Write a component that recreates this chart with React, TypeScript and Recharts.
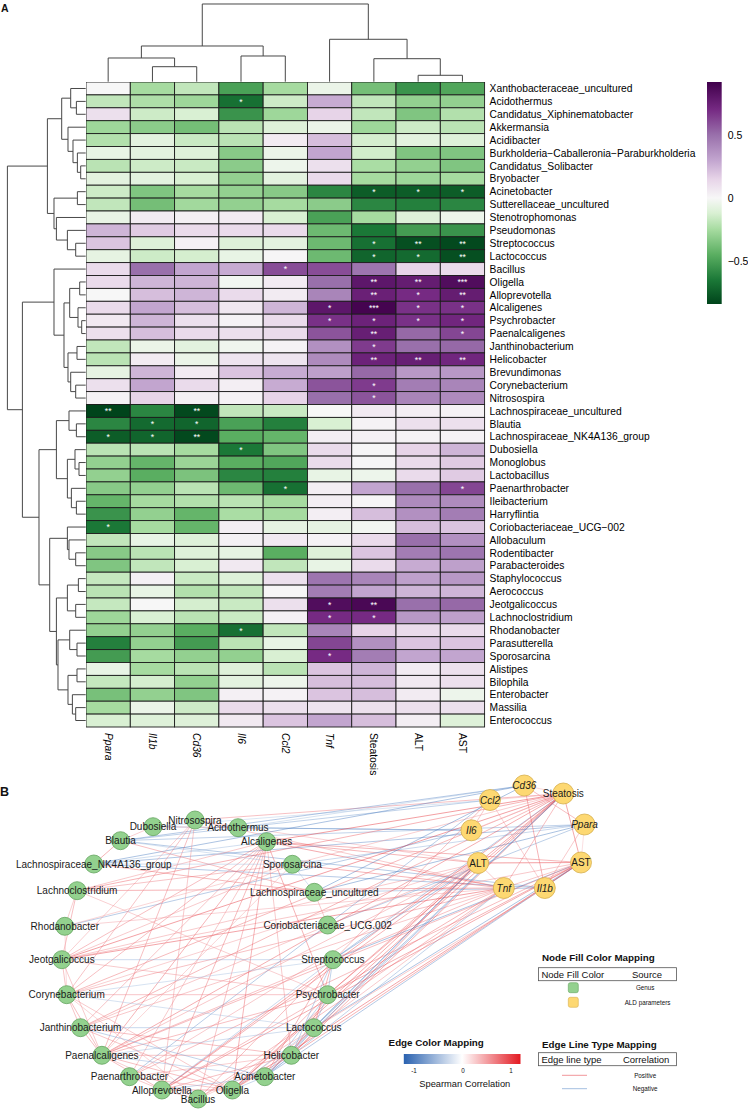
import React from "react";
import {
    ComposedChart,
    ScatterChart,
    Scatter,
    Line,
    XAxis,
    YAxis,
    ReferenceLine,
    ReferenceArea,
} from "recharts";

const FONT = '"Liberation Sans", Arial, Helvetica, sans-serif';

// ---------- panel A: heatmap ----------

const ROWS = [
    "Xanthobacteraceae_uncultured", "Acidothermus", "Candidatus_Xiphinematobacter", "Akkermansia",
    "Acidibacter", "Burkholderia\u2212Caballeronia\u2212Paraburkholderia", "Candidatus_Solibacter", "Bryobacter",
    "Acinetobacter", "Sutterellaceae_uncultured", "Stenotrophomonas", "Pseudomonas", "Streptococcus",
    "Lactococcus", "Bacillus", "Oligella", "Alloprevotella", "Alcaligenes", "Psychrobacter",
    "Paenalcaligenes", "Janthinobacterium", "Helicobacter", "Brevundimonas", "Corynebacterium",
    "Nitrosospira", "Lachnospiraceae_uncultured", "Blautia", "Lachnospiraceae_NK4A136_group",
    "Dubosiella", "Monoglobus", "Lactobacillus", "Paenarthrobacter", "Ileibacterium", "Harryflintia",
    "Coriobacteriaceae_UCG\u2212002", "Allobaculum", "Rodentibacter", "Parabacteroides", "Staphylococcus",
    "Aerococcus", "Jeotgalicoccus", "Lachnoclostridium", "Rhodanobacter", "Parasutterella",
    "Sporosarcina", "Alistipes", "Bilophila", "Enterobacter", "Massilia", "Enterococcus",
];

const COLUMNS = ["Ppara", "Il1b", "Cd36", "Il6", "Ccl2", "Tnf", "Steatosis", "ALT", "AST"];
const ITALIC_LABELS = ["Ppara", "Il1b", "Cd36", "Il6", "Ccl2", "Tnf"];

const PPARA = [0.0, -0.18, 0.1, -0.27, -0.22, -0.06, -0.2, -0.08, -0.15, -0.18, -0.06, 0.25, 0.2, -0.07, 0.12, 0.12, 0.0, 0.12, 0.06, 0.1, -0.18, -0.2, -0.07, 0.1, 0.02, -0.84, -0.6, -0.75, -0.2, -0.3, -0.3, -0.33, -0.42, -0.55, -0.65, -0.18, -0.33, -0.35, -0.17, -0.2, -0.17, -0.27, -0.3, -0.62, -0.52, -0.06, -0.17, -0.37, -0.25, -0.12];
const IL1B = [-0.25, -0.23, -0.15, -0.32, -0.08, -0.08, -0.15, -0.08, -0.35, -0.38, 0.05, 0.18, -0.1, -0.15, 0.5, 0.25, 0.22, 0.3, 0.25, 0.22, -0.05, 0.05, 0.25, 0.3, 0.15, -0.6, -0.7, -0.72, -0.2, -0.42, -0.45, -0.3, -0.25, -0.3, -0.25, -0.06, -0.2, -0.18, 0.03, -0.06, 0.0, -0.12, -0.3, -0.3, -0.25, -0.25, -0.13, -0.3, -0.05, -0.1];
const CD36 = [-0.18, -0.27, -0.12, -0.38, -0.16, -0.1, -0.16, -0.12, -0.25, -0.26, 0.03, 0.12, 0.03, -0.13, 0.3, 0.25, 0.25, 0.22, 0.1, 0.12, -0.08, -0.05, 0.05, 0.12, 0.03, -0.82, -0.72, -0.82, -0.25, -0.28, -0.36, -0.2, -0.22, -0.42, -0.42, -0.1, -0.1, -0.12, -0.16, -0.22, -0.13, -0.2, -0.45, -0.52, -0.3, -0.2, -0.3, -0.35, -0.15, -0.1];
const IL6 = [-0.5, -0.68, -0.55, -0.2, -0.2, -0.33, -0.32, -0.3, -0.3, -0.3, 0.05, 0.12, -0.1, -0.06, 0.28, -0.02, 0.12, 0.07, 0.02, 0.1, -0.03, 0.08, 0.2, 0.04, 0.02, -0.18, -0.5, -0.45, -0.65, -0.45, -0.6, -0.4, -0.2, -0.24, 0.04, 0.03, -0.07, 0.06, -0.1, -0.18, -0.16, -0.16, -0.68, -0.2, -0.3, -0.1, -0.08, 0.03, 0.12, 0.06];
const CCL2 = [-0.25, -0.15, -0.27, -0.1, 0.05, -0.05, -0.04, -0.08, -0.33, -0.25, -0.12, 0.12, -0.08, 0.01, 0.6, 0.05, 0.05, 0.25, 0.12, 0.12, 0.02, 0.08, 0.28, 0.28, 0.15, -0.16, -0.62, -0.42, -0.35, -0.48, -0.62, -0.68, -0.25, -0.25, -0.07, 0.06, -0.45, -0.18, 0.1, 0.01, 0.1, 0.03, -0.18, -0.06, -0.12, -0.2, -0.04, 0.02, 0.1, 0.2];
const TNF = [-0.05, 0.28, 0.15, -0.05, 0.22, 0.3, 0.1, 0.12, -0.6, -0.32, -0.5, -0.4, -0.4, -0.4, 0.6, 0.5, 0.42, 0.8, 0.68, 0.58, 0.38, 0.4, 0.32, 0.58, 0.5, 0.0, -0.12, 0.04, 0.12, 0.12, -0.06, 0.04, 0.04, 0.04, -0.07, 0.02, -0.1, -0.06, 0.48, 0.45, 0.85, 0.7, 0.42, 0.62, 0.7, 0.2, 0.22, 0.2, 0.08, 0.3];
const STEATOSIS = [-0.38, -0.18, -0.18, -0.27, -0.13, -0.14, -0.24, -0.25, -0.75, -0.6, -0.25, -0.65, -0.68, -0.72, 0.48, 0.8, 0.75, 0.9, 0.74, 0.76, 0.65, 0.74, 0.52, 0.65, 0.58, 0.06, 0.02, 0.03, 0.01, 0.01, -0.04, 0.3, 0.01, 0.22, -0.02, 0.12, 0.2, 0.12, 0.42, 0.3, 0.88, 0.7, 0.15, 0.38, 0.45, 0.25, 0.22, 0.22, 0.1, 0.22];
const ALT = [-0.55, -0.3, -0.35, -0.15, -0.08, -0.35, -0.3, -0.27, -0.75, -0.62, -0.1, -0.52, -0.8, -0.7, 0.15, 0.77, 0.7, 0.68, 0.68, 0.52, 0.5, 0.76, 0.35, 0.45, 0.42, 0.04, 0.1, 0.02, 0.15, 0.12, 0.12, 0.5, 0.4, 0.38, 0.22, 0.5, 0.45, 0.28, 0.32, 0.25, 0.5, 0.35, 0.12, 0.2, 0.3, 0.05, 0.06, 0.05, 0.1, 0.04];
const AST = [-0.48, -0.3, -0.22, -0.2, -0.1, -0.35, -0.35, -0.25, -0.75, -0.6, -0.04, -0.55, -0.82, -0.8, 0.12, 0.85, 0.77, 0.68, 0.72, 0.62, 0.52, 0.72, 0.35, 0.42, 0.4, 0.02, 0.1, 0.02, 0.25, 0.18, 0.18, 0.62, 0.4, 0.45, 0.2, 0.38, 0.48, 0.32, 0.35, 0.25, 0.52, 0.32, 0.12, 0.2, 0.3, 0.1, 0.1, -0.04, 0.1, -0.1];
const COLUMN_VALUES = [PPARA, IL1B, CD36, IL6, CCL2, TNF, STEATOSIS, ALT, AST];

// [row, column, stars]
const STARS: [number, number, string][] = [
    [1, 3, "*"], [8, 6, "*"], [8, 7, "*"], [8, 8, "*"],
    [12, 6, "*"], [12, 7, "**"], [12, 8, "**"], [13, 6, "*"], [13, 7, "*"], [13, 8, "**"],
    [14, 4, "*"], [15, 6, "**"], [15, 7, "**"], [15, 8, "***"], [16, 6, "**"], [16, 7, "*"], [16, 8, "**"],
    [17, 5, "*"], [17, 6, "***"], [17, 7, "*"], [17, 8, "*"], [18, 5, "*"], [18, 6, "*"], [18, 7, "*"], [18, 8, "*"],
    [19, 6, "**"], [19, 8, "*"], [20, 6, "*"], [21, 6, "**"], [21, 7, "**"], [21, 8, "**"],
    [23, 6, "*"], [24, 6, "*"], [25, 0, "**"], [25, 2, "**"], [26, 1, "*"], [26, 2, "*"],
    [27, 0, "*"], [27, 1, "*"], [27, 2, "**"], [28, 3, "*"], [31, 4, "*"], [31, 8, "*"],
    [34, 0, "*"], [40, 5, "*"], [40, 6, "**"], [41, 5, "*"], [41, 6, "*"], [42, 3, "*"], [44, 5, "*"],
];

// dendrogram merges: [child a, child b, height]; leaves first, then merged ids in order
const ROW_MERGES: [number, number, number][] = [
    [1, 2, 9.3], [0, 50, 15], [6, 7, 5], [5, 52, 8.3], [4, 53, 12.7], [3, 54, 17.7], [51, 55, 24],
    [8, 9, 8.3], [12, 13, 10], [11, 58, 18.3], [10, 59, 29.3], [57, 60, 31.7], [56, 61, 38.3],
    [15, 16, 6], [18, 19, 4], [17, 64, 7.7], [63, 65, 16], [20, 21, 8.7], [23, 24, 10], [22, 68, 15],
    [67, 69, 17.7], [66, 70, 21.7], [14, 71, 31.7],
    [26, 27, 9.3], [25, 73, 16.7], [29, 30, 6.7], [28, 75, 10.7], [32, 33, 9.3], [31, 77, 14.3],
    [76, 78, 18.3], [74, 79, 29.3],
    [36, 37, 10], [35, 81, 16.7], [34, 82, 18.3], [38, 39, 7.3], [40, 41, 10], [84, 85, 18.3],
    [43, 44, 8.7], [42, 87, 16], [45, 46, 8.7], [48, 49, 10], [47, 90, 13.3], [89, 91, 17.7],
    [88, 92, 27.7], [86, 93, 29.3], [83, 94, 36], [80, 95, 46.7], [72, 96, 63.3], [62, 97, 78.3],
];

const COL_MERGES: [number, number, number][] = [
    [7, 8, 6.4], [1, 2, 15], [0, 10, 23.7], [3, 4, 25.7], [11, 12, 35.7], [6, 9, 23], [5, 14, 42.4], [13, 15, 77.7],
];

const COLOR_STOPS = [-0.84, -0.65, -0.45, -0.25, -0.12, 0, 0.15, 0.3, 0.5, 0.7, 0.92];
const COLOR_HEX = ["#00441b", "#1b7837", "#5aae61", "#a6dba0", "#d9f0d3", "#f7f7f7", "#e7d4e8", "#c2a5cf", "#9970ab", "#762a83", "#40004b"];
const COLORBAR_TICKS = [-0.5, 0, 0.5];

// ---------- panel B: network ----------

const GENUS_NODES = [
    { name: "Nitrosospira", x: 195, y: 820 },
    { name: "Dubosiella", x: 153, y: 826.7 },
    { name: "Acidothermus", x: 238, y: 827.7 },
    { name: "Blautia", x: 120.5, y: 840.7 },
    { name: "Alcaligenes", x: 266.7, y: 841.7 },
    { name: "Lachnospiraceae_NK4A136_group", x: 93.8, y: 864 },
    { name: "Sporosarcina", x: 292.4, y: 864.3 },
    { name: "Lachnoclostridium", x: 77.1, y: 890.7 },
    { name: "Lachnospiraceae_uncultured", x: 314.3, y: 892.3 },
    { name: "Rhodanobacter", x: 64.8, y: 926.3 },
    { name: "Coriobacteriaceae_UCG.002", x: 327.6, y: 925 },
    { name: "Jeotgalicoccus", x: 61.9, y: 959.7 },
    { name: "Streptococcus", x: 332.9, y: 959.7 },
    { name: "Corynebacterium", x: 66.7, y: 994.7 },
    { name: "Psychrobacter", x: 327.6, y: 994.7 },
    { name: "Janthinobacterium", x: 80.5, y: 1027.7 },
    { name: "Lactococcus", x: 313.8, y: 1027.7 },
    { name: "Paenalcaligenes", x: 101.9, y: 1055.3 },
    { name: "Helicobacter", x: 291.4, y: 1055.3 },
    { name: "Paenarthrobacter", x: 129.5, y: 1076.7 },
    { name: "Acinetobacter", x: 264.8, y: 1076.7 },
    { name: "Alloprevotella", x: 161.9, y: 1090 },
    { name: "Oligella", x: 232.4, y: 1090 },
    { name: "Bacillus", x: 198.1, y: 1099 },
];

const PARAM_NODES = [
    { name: "Cd36", x: 524.3, y: 785.5 },
    { name: "Ccl2", x: 490, y: 800 },
    { name: "Steatosis", x: 563.3, y: 793.5 },
    { name: "Il6", x: 471.4, y: 830.3 },
    { name: "Ppara", x: 584.5, y: 824.5 },
    { name: "ALT", x: 478.1, y: 863 },
    { name: "AST", x: 581, y: 862.5 },
    { name: "Tnf", x: 503.8, y: 888 },
    { name: "Il1b", x: 544.8, y: 888 },
];

const NK = "Lachnospiraceae_NK4A136_group";
const LU = "Lachnospiraceae_uncultured";
const CO = "Coriobacteriaceae_UCG.002";

// [source, target, spearman r]
const EDGES: [string, string, number][] = [
    ["Acidothermus", "Il6", -0.68], ["Acidothermus", "Cd36", -0.4], ["Dubosiella", "Il6", -0.65], ["Dubosiella", "Ccl2", -0.35],
    ["Nitrosospira", "Steatosis", 0.58], ["Nitrosospira", "Tnf", 0.5], ["Nitrosospira", "ALT", 0.42],
    ["Blautia", "Il1b", -0.7], ["Blautia", "Cd36", -0.72], ["Blautia", "Ppara", -0.6], ["Blautia", "Ccl2", -0.62],
    ["Alcaligenes", "Tnf", 0.8], ["Alcaligenes", "Steatosis", 0.9], ["Alcaligenes", "ALT", 0.68], ["Alcaligenes", "AST", 0.68],
    [NK, "Ppara", -0.75], [NK, "Il1b", -0.72], [NK, "Cd36", -0.82],
    ["Sporosarcina", "Tnf", 0.7], ["Sporosarcina", "Ppara", -0.52], ["Sporosarcina", "Steatosis", 0.45],
    ["Lachnoclostridium", "Tnf", 0.7], ["Lachnoclostridium", "Steatosis", 0.7],
    [LU, "Ppara", -0.84], [LU, "Cd36", -0.82], [LU, "Il1b", -0.6],
    ["Rhodanobacter", "Il6", -0.68], ["Rhodanobacter", "Tnf", 0.42], [CO, "Ppara", -0.65],
    ["Jeotgalicoccus", "Tnf", 0.85], ["Jeotgalicoccus", "Steatosis", 0.88], ["Jeotgalicoccus", "ALT", 0.5], ["Jeotgalicoccus", "AST", 0.52],
    ["Streptococcus", "Steatosis", -0.68], ["Streptococcus", "ALT", -0.8], ["Streptococcus", "AST", -0.82],
    ["Corynebacterium", "Steatosis", 0.65], ["Corynebacterium", "Tnf", 0.58], ["Corynebacterium", "ALT", 0.45],
    ["Psychrobacter", "Tnf", 0.68], ["Psychrobacter", "Steatosis", 0.74], ["Psychrobacter", "ALT", 0.68], ["Psychrobacter", "AST", 0.72],
    ["Janthinobacterium", "Steatosis", 0.65], ["Janthinobacterium", "ALT", 0.5], ["Janthinobacterium", "AST", 0.52],
    ["Lactococcus", "Steatosis", -0.72], ["Lactococcus", "ALT", -0.7], ["Lactococcus", "AST", -0.8],
    ["Paenalcaligenes", "Steatosis", 0.76], ["Paenalcaligenes", "AST", 0.62], ["Paenalcaligenes", "Tnf", 0.58], ["Paenalcaligenes", "ALT", 0.52],
    ["Helicobacter", "Steatosis", 0.74], ["Helicobacter", "ALT", 0.76], ["Helicobacter", "AST", 0.72],
    ["Paenarthrobacter", "Ccl2", -0.68], ["Paenarthrobacter", "AST", 0.62], ["Paenarthrobacter", "ALT", 0.5],
    ["Acinetobacter", "Steatosis", -0.75], ["Acinetobacter", "ALT", -0.75], ["Acinetobacter", "AST", -0.75], ["Acinetobacter", "Tnf", -0.6],
    ["Alloprevotella", "Steatosis", 0.75], ["Alloprevotella", "ALT", 0.7], ["Alloprevotella", "AST", 0.77],
    ["Oligella", "Steatosis", 0.8], ["Oligella", "ALT", 0.77], ["Oligella", "AST", 0.85], ["Oligella", "Tnf", 0.5],
    ["Bacillus", "Ccl2", 0.6], ["Bacillus", "Tnf", 0.6], ["Bacillus", "Il1b", 0.5],
    ["Steatosis", "ALT", 0.8], ["Steatosis", "AST", 0.82], ["ALT", "AST", 0.95], ["Tnf", "Steatosis", 0.6],
    ["Cd36", "Il1b", 0.7], ["Ppara", "Cd36", 0.6], ["Ppara", "Il1b", 0.5], ["Ccl2", "Il6", 0.5], ["Ccl2", "Il1b", 0.45],
    ["Ppara", "AST", 0.3], ["Cd36", "Steatosis", 0.35], ["Ccl2", "Steatosis", 0.4], ["Il6", "Steatosis", 0.35], ["Tnf", "ALT", 0.5],
    ["Alcaligenes", "Oligella", 0.7], ["Alcaligenes", "Alloprevotella", 0.65], ["Alcaligenes", "Paenalcaligenes", 0.7],
    ["Alcaligenes", "Corynebacterium", 0.6], ["Alcaligenes", "Jeotgalicoccus", 0.6], ["Alcaligenes", "Bacillus", 0.55],
    ["Alcaligenes", "Psychrobacter", 0.7], ["Alcaligenes", "Paenarthrobacter", 0.5], ["Alcaligenes", "Helicobacter", 0.5],
    ["Alcaligenes", "Janthinobacterium", 0.55], ["Alcaligenes", "Lachnoclostridium", 0.5],
    ["Nitrosospira", "Paenalcaligenes", 0.6], ["Nitrosospira", "Corynebacterium", 0.55], ["Nitrosospira", "Alloprevotella", 0.5],
    ["Nitrosospira", "Jeotgalicoccus", 0.45],
    ["Jeotgalicoccus", "Lachnoclostridium", 0.6], ["Jeotgalicoccus", "Corynebacterium", 0.55], ["Jeotgalicoccus", "Sporosarcina", 0.5],
    ["Jeotgalicoccus", "Paenalcaligenes", 0.5], ["Jeotgalicoccus", "Psychrobacter", 0.5],
    ["Corynebacterium", "Paenalcaligenes", 0.6], ["Corynebacterium", "Janthinobacterium", 0.55], ["Corynebacterium", "Psychrobacter", 0.55],
    ["Corynebacterium", "Oligella", 0.5],
    ["Janthinobacterium", "Paenalcaligenes", 0.6], ["Janthinobacterium", "Helicobacter", 0.6], ["Janthinobacterium", "Oligella", 0.55],
    ["Paenalcaligenes", "Alloprevotella", 0.6], ["Paenalcaligenes", "Oligella", 0.6], ["Paenalcaligenes", "Helicobacter", 0.55],
    ["Paenalcaligenes", "Psychrobacter", 0.6], ["Paenalcaligenes", "Bacillus", 0.45],
    ["Paenarthrobacter", "Alloprevotella", 0.5], ["Paenarthrobacter", "Helicobacter", 0.45], ["Paenarthrobacter", "Oligella", 0.5],
    ["Alloprevotella", "Oligella", 0.7], ["Alloprevotella", "Helicobacter", 0.6], ["Alloprevotella", "Psychrobacter", 0.6],
    ["Alloprevotella", "Bacillus", 0.45], ["Oligella", "Helicobacter", 0.65], ["Oligella", "Psychrobacter", 0.65],
    ["Helicobacter", "Psychrobacter", 0.6],
    ["Lachnoclostridium", "Sporosarcina", 0.55], ["Lachnoclostridium", "Rhodanobacter", 0.45], ["Lachnoclostridium", "Psychrobacter", 0.45],
    ["Rhodanobacter", "Corynebacterium", 0.35], ["Rhodanobacter", "Sporosarcina", 0.4],
    ["Streptococcus", "Lactococcus", 0.7], ["Streptococcus", "Acinetobacter", 0.65], ["Lactococcus", "Acinetobacter", 0.7],
    [LU, "Blautia", 0.6], [LU, NK, 0.65], ["Blautia", NK, 0.7], [CO, LU, 0.5], ["Dubosiella", "Blautia", 0.45],
    ["Acidothermus", "Dubosiella", 0.4], ["Bacillus", "Corynebacterium", 0.4], ["Bacillus", "Helicobacter", 0.4],
    ["Sporosarcina", "Paenalcaligenes", 0.4],
    ["Jeotgalicoccus", "Streptococcus", -0.5], ["Janthinobacterium", "Lactococcus", -0.55], ["Janthinobacterium", "Acinetobacter", -0.6],
    ["Paenalcaligenes", "Acinetobacter", -0.5], ["Paenalcaligenes", "Lactococcus", -0.45],
    ["Streptococcus", "Psychrobacter", -0.6], ["Streptococcus", "Helicobacter", -0.6], ["Lactococcus", "Psychrobacter", -0.6],
    ["Lactococcus", "Helicobacter", -0.55], ["Acinetobacter", "Helicobacter", -0.6], ["Acinetobacter", "Psychrobacter", -0.6],
    ["Acinetobacter", "Oligella", -0.55], ["Lactococcus", "Oligella", -0.5], ["Streptococcus", "Alloprevotella", -0.5],
    ["Acinetobacter", "Alloprevotella", -0.5], [NK, "Alcaligenes", -0.45], ["Blautia", "Sporosarcina", -0.4],
    [NK, "Sporosarcina", -0.4], [LU, "Sporosarcina", -0.4], ["Corynebacterium", "Lactococcus", -0.4],
    ["Streptococcus", "Corynebacterium", -0.4],
];

// ---------- geometry of the page ----------

const HEAT_LEFT = 85.7;
const HEAT_TOP = 81.7;
const HEAT_W = 398.6;
const HEAT_H = 645;
const CELL_W = HEAT_W / COLUMNS.length;
const CELL_H = HEAT_H / ROWS.length;

function hexToRgb(hex: string) {
    const n = parseInt(hex.slice(1), 16);
    return [(n >> 16) & 255, (n >> 8) & 255, n & 255];
}

function mix(a: number[], b: number[], t: number) {
    const c = a.map((v, i) => Math.round(v + (b[i] - v) * t));
    return `rgb(${c[0]},${c[1]},${c[2]})`;
}

function heatColor(v: number) {
    if (v <= COLOR_STOPS[0]) return COLOR_HEX[0];
    for (let i = 1; i < COLOR_STOPS.length; i++) {
        if (v <= COLOR_STOPS[i]) {
            const t = (v - COLOR_STOPS[i - 1]) / (COLOR_STOPS[i] - COLOR_STOPS[i - 1]);
            return mix(hexToRgb(COLOR_HEX[i - 1]), hexToRgb(COLOR_HEX[i]), t);
        }
    }
    return COLOR_HEX[COLOR_HEX.length - 1];
}

function edgeColor(r: number) {
    const t = Math.min(1, Math.max(0, (Math.abs(r) - 0.25) / 0.65));
    return r > 0
        ? mix([247, 196, 199], [228, 40, 48], t)
        : mix([196, 214, 236], [52, 108, 184], t);
}

function dendroSegments(merges: [number, number, number][], leaves: number) {
    const pos: number[] = [];
    const hgt: number[] = [];
    for (let i = 0; i < leaves; i++) {
        pos[i] = i + 0.5;
        hgt[i] = 0;
    }
    const segs: { p1: number; h1: number; p2: number; h2: number }[] = [];
    merges.forEach(([a, b, h], k) => {
        segs.push({ p1: pos[a], h1: hgt[a], p2: pos[a], h2: h });
        segs.push({ p1: pos[b], h1: hgt[b], p2: pos[b], h2: h });
        segs.push({ p1: pos[a], h1: h, p2: pos[b], h2: h });
        pos[leaves + k] = (pos[a] + pos[b]) / 2;
        hgt[leaves + k] = h;
    });
    return segs;
}

const cells = ROWS.flatMap((_, r) =>
    COLUMNS.map((_, c) => {
        const star = STARS.find((s) => s[0] === r && s[1] === c);
        return { x: c + 0.5, y: r + 0.5, v: COLUMN_VALUES[c][r], star: star ? star[2] : "" };
    })
);

const rowTicks = ROWS.map((_, i) => i + 0.5);
const colTicks = COLUMNS.map((_, i) => i + 0.5);
const rowSegs = dendroSegments(ROW_MERGES, ROWS.length);
const colSegs = dendroSegments(COL_MERGES, COLUMNS.length);

const DENDRO_STROKE = "#474747";

function HeatCell(props: any) {
    const { cx, cy, payload } = props;
    return (
        <g>
            <rect
                x={cx - CELL_W / 2}
                y={cy - CELL_H / 2}
                width={CELL_W}
                height={CELL_H}
                fill={heatColor(payload.v)}
                stroke="#1c1c1c"
                strokeWidth={0.9}
            />
            {payload.star ? (
                <text x={cx} y={cy + 3.4} textAnchor="middle" fontSize={8.5} fill="#ffffff" fontFamily={FONT}>
                    {payload.star}
                </text>
            ) : null}
        </g>
    );
}

function ColumnTick(props: any) {
    const { x, y, payload } = props;
    const name = COLUMNS[Math.round(payload.value - 0.5)];
    const top = y + 6;
    return (
        <text
            x={x}
            y={top}
            transform={`rotate(90 ${x} ${top})`}
            textAnchor="start"
            dominantBaseline="central"
            fontSize={10.3}
            fontFamily={FONT}
            fontStyle={ITALIC_LABELS.includes(name) ? "italic" : "normal"}
            fill="#000"
        >
            {name}
        </text>
    );
}

function Heatmap() {
    return (
        <div style={{ position: "absolute", left: HEAT_LEFT, top: HEAT_TOP }}>
            <ScatterChart width={HEAT_W + 262} height={HEAT_H + 62} margin={{ top: 0, right: 0, bottom: 0, left: 0 }}>
                <XAxis
                    type="number"
                    dataKey="x"
                    domain={[0, COLUMNS.length]}
                    ticks={colTicks}
                    interval={0}
                    tick={<ColumnTick />}
                    tickLine={false}
                    axisLine={false}
                    tickSize={0}
                    tickMargin={0}
                    height={62}
                />
                <YAxis
                    type="number"
                    dataKey="y"
                    domain={[0, ROWS.length]}
                    reversed
                    orientation="right"
                    ticks={rowTicks}
                    interval={0}
                    tickFormatter={(v: number) => ROWS[Math.round(v - 0.5)]}
                    tick={{ fontSize: 10.3, fill: "#000", fontFamily: FONT }}
                    tickLine={false}
                    axisLine={false}
                    tickSize={0}
                    tickMargin={5}
                    width={262}
                />
                <Scatter data={cells} shape={<HeatCell />} isAnimationActive={false} />
            </ScatterChart>
        </div>
    );
}

function RowDendrogram() {
    return (
        <div style={{ position: "absolute", left: 0, top: HEAT_TOP }}>
            <ComposedChart width={HEAT_LEFT} height={HEAT_H} margin={{ top: 0, right: 0, bottom: 0, left: 0 }}>
                <XAxis type="number" dataKey="h" domain={[0, HEAT_LEFT]} reversed hide />
                <YAxis type="number" dataKey="p" domain={[0, ROWS.length]} reversed hide />
                <Scatter data={rowTicks.map((p) => ({ h: 0, p }))} shape={() => <g />} isAnimationActive={false} />
                {rowSegs.map((s, i) => (
                    <ReferenceLine
                        key={i}
                        segment={[{ x: s.h1, y: s.p1 }, { x: s.h2, y: s.p2 }]}
                        stroke={DENDRO_STROKE}
                        strokeWidth={1}
                        ifOverflow="visible"
                    />
                ))}
            </ComposedChart>
        </div>
    );
}

function ColumnDendrogram() {
    return (
        <div style={{ position: "absolute", left: HEAT_LEFT, top: 0 }}>
            <ComposedChart width={HEAT_W} height={HEAT_TOP} margin={{ top: 0, right: 0, bottom: 0, left: 0 }}>
                <XAxis type="number" dataKey="p" domain={[0, COLUMNS.length]} hide />
                <YAxis type="number" dataKey="h" domain={[0, HEAT_TOP]} hide />
                <Scatter data={colTicks.map((p) => ({ h: 0, p }))} shape={() => <g />} isAnimationActive={false} />
                {colSegs.map((s, i) => (
                    <ReferenceLine
                        key={i}
                        segment={[{ x: s.p1, y: s.h1 }, { x: s.p2, y: s.h2 }]}
                        stroke={DENDRO_STROKE}
                        strokeWidth={1}
                        ifOverflow="visible"
                    />
                ))}
            </ComposedChart>
        </div>
    );
}

function Colorbar() {
    const lo = COLOR_STOPS[0];
    const hi = COLOR_STOPS[COLOR_STOPS.length - 1];
    return (
        <div style={{ position: "absolute", left: 707.3, top: 82.3 }}>
            <ComposedChart width={14.7 + 40} height={222} margin={{ top: 0, right: 0, bottom: 0, left: 0 }}>
                <defs>
                    <linearGradient id="cbarGrad" x1="0" y1="1" x2="0" y2="0">
                        {COLOR_STOPS.map((s, i) => (
                            <stop key={i} offset={(s - lo) / (hi - lo)} stopColor={COLOR_HEX[i]} />
                        ))}
                    </linearGradient>
                </defs>
                <XAxis type="number" dataKey="x" domain={[0, 1]} hide />
                <YAxis
                    type="number"
                    dataKey="y"
                    domain={[lo, hi]}
                    orientation="right"
                    ticks={COLORBAR_TICKS}
                    tickFormatter={(v: number) => (v < 0 ? `\u2212${Math.abs(v)}` : `${v}`)}
                    tick={{ fontSize: 10.5, fill: "#000", fontFamily: FONT }}
                    tickLine={false}
                    axisLine={false}
                    tickSize={0}
                    tickMargin={6}
                    width={40}
                />
                <Scatter data={[{ x: 0.5, y: 0 }]} shape={() => <g />} isAnimationActive={false} />
                <ReferenceArea x1={0} x2={1} y1={lo} y2={hi} fill="url(#cbarGrad)" fillOpacity={1} stroke="none" />
            </ComposedChart>
        </div>
    );
}

const ALL_NODES = [...GENUS_NODES, ...PARAM_NODES];
const nodeByName: Record<string, { x: number; y: number }> = Object.fromEntries(ALL_NODES.map((n) => [n.name, n]));

function GenusNode(props: any) {
    return <circle cx={props.cx} cy={props.cy} r={9} fill="#93d18e" stroke="#62a35d" strokeWidth={0.8} />;
}

function ParamNode(props: any) {
    return <circle cx={props.cx} cy={props.cy} r={10.5} fill="#fdd872" stroke="#d6ae4c" strokeWidth={0.8} />;
}

function NodeLabel(props: any) {
    const name = props.payload.name;
    return (
        <text
            x={props.cx}
            y={props.cy}
            textAnchor="middle"
            dominantBaseline="central"
            fontSize={10}
            fontFamily={FONT}
            fontStyle={ITALIC_LABELS.includes(name) ? "italic" : "normal"}
            fill="#1a1a1a"
        >
            {name}
        </text>
    );
}

function Network() {
    return (
        <div style={{ position: "absolute", left: 0, top: 770 }}>
            <ComposedChart width={748} height={339} margin={{ top: 0, right: 0, bottom: 0, left: 0 }}>
                <XAxis type="number" dataKey="x" domain={[0, 748]} hide />
                <YAxis type="number" dataKey="y" domain={[770, 1109]} reversed hide />
                {EDGES.map(([a, b, r], i) => (
                    <Line
                        key={i}
                        data={[nodeByName[a], nodeByName[b]]}
                        dataKey="y"
                        type="linear"
                        stroke={edgeColor(r)}
                        strokeWidth={0.6}
                        strokeOpacity={0.75}
                        dot={false}
                        activeDot={false}
                        legendType="none"
                        isAnimationActive={false}
                    />
                ))}
                <Scatter data={GENUS_NODES} shape={<GenusNode />} isAnimationActive={false} />
                <Scatter data={PARAM_NODES} shape={<ParamNode />} isAnimationActive={false} />
                <Scatter data={ALL_NODES} shape={<NodeLabel />} isAnimationActive={false} />
            </ComposedChart>
        </div>
    );
}

function Legends() {
    const t = { fontFamily: FONT, fill: "#111" } as const;
    return (
        <svg width={748} height={1109} style={{ position: "absolute", left: 0, top: 0, pointerEvents: "none" }}>
            <defs>
                <linearGradient id="edgeGrad" x1="0" y1="0" x2="1" y2="0">
                    <stop offset="0" stopColor="#2a62b0" />
                    <stop offset="0.5" stopColor="#ffffff" />
                    <stop offset="1" stopColor="#e31a22" />
                </linearGradient>
            </defs>
            <text x={1} y={12} fontSize={10.5} fontWeight="bold" {...t}>A</text>
            <text x={0} y={796} fontSize={12.5} fontWeight="bold" {...t}>B</text>

            <text x={542} y={960.5} fontSize={9.8} fontWeight="bold" {...t}>Node Fill Color Mapping</text>
            <rect x={538.6} y={967.7} width={138} height={13} fill="none" stroke="#555" strokeWidth={0.8} />
            <text x={541.4} y={977.6} fontSize={9.5} {...t}>Node Fill Color</text>
            <text x={632} y={977.6} fontSize={9.5} {...t}>Source</text>
            <rect x={568.3} y={982.7} width={10} height={10} rx={2} fill="#93d18e" stroke="#62a35d" strokeWidth={0.6} />
            <text x={645.2} y={990} fontSize={6.3} textAnchor="middle" {...t}>Genus</text>
            <rect x={568.3} y={997.3} width={10} height={10} rx={2} fill="#fdd872" stroke="#d6ae4c" strokeWidth={0.6} />
            <text x={647.6} y={1004.6} fontSize={6.3} textAnchor="middle" {...t}>ALD parameters</text>

            <text x={388.6} y={1045.8} fontSize={9.8} fontWeight="bold" {...t}>Edge Color Mapping</text>
            <rect x={403.8} y={1054} width={116.7} height={10} fill="url(#edgeGrad)" />
            <text x={414} y={1072.5} fontSize={6.3} textAnchor="middle" {...t}>-1</text>
            <text x={463} y={1072.5} fontSize={6.3} textAnchor="middle" {...t}>0</text>
            <text x={511} y={1072.5} fontSize={6.3} textAnchor="middle" {...t}>1</text>
            <text x={464.8} y={1087} fontSize={9.3} textAnchor="middle" {...t}>Spearman Correlation</text>

            <text x={542} y={1047.5} fontSize={9.8} fontWeight="bold" {...t}>Edge Line Type Mapping</text>
            <rect x={538.6} y={1052.7} width={138} height={13} fill="none" stroke="#555" strokeWidth={0.8} />
            <text x={541.4} y={1062.6} fontSize={9.5} {...t}>Edge line type</text>
            <text x={622.9} y={1062.6} fontSize={9.5} {...t}>Correlation</text>
            <line x1={562} x2={587} y1={1075.3} y2={1075.3} stroke="#f08a8f" strokeWidth={0.9} />
            <text x={645.2} y={1077.5} fontSize={6.3} textAnchor="middle" {...t}>Positive</text>
            <line x1={562} x2={587} y1={1088.7} y2={1088.7} stroke="#9ab8de" strokeWidth={0.9} />
            <text x={645.2} y={1090.9} fontSize={6.3} textAnchor="middle" {...t}>Negative</text>
        </svg>
    );
}

export default function App() {
    return (
        <div style={{ position: "relative", width: 748, height: 1109, background: "#fff", fontFamily: FONT, overflow: "hidden" }}>
            <style>{"body{margin:0}"}</style>
            <ColumnDendrogram />
            <RowDendrogram />
            <Heatmap />
            <Colorbar />
            <Network />
            <Legends />
        </div>
    );
}
